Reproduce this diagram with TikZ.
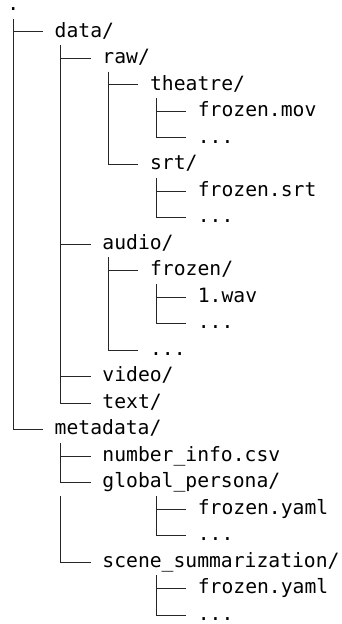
\documentclass[tikz,border=0pt]{standalone}
\usepackage{fontspec}
\newfontfamily\treefont{DejaVu Sans Mono}
\begin{document}
\begin{tikzpicture}[x=0.75pt,y=-0.75pt,
  entry/.style={anchor=west,inner xsep=8.6pt,inner ysep=0pt,text height=11pt,text depth=3pt,
    font=\treefont\fontsize{14.77pt}{17pt}\selectfont,text=black},
  branch/.style={draw=black!85,line width=0.75pt}]
\useasboundingbox (0,0) rectangle (342,624);
% nodes
\node[entry,anchor=base west,inner xsep=0pt,text height=2pt,text depth=0pt] (root) at (7.1,10.8) {.};
\node[entry] (data) at (43,32) {data/};
\node[entry] (raw) at (90.7,58.5) {raw/};
\node[entry] (theatre) at (138.4,85) {theatre/};
\node[entry] (fmov) at (186.1,111.5) {frozen.mov};
\node[entry] (dotsA) at (186.1,138) {...};
\node[entry] (srt) at (138.4,164.5) {srt/};
\node[entry] (fsrt) at (186.1,191) {frozen.srt};
\node[entry] (dotsB) at (186.1,217.5) {...};
\node[entry] (audio) at (90.7,244) {audio/};
\node[entry] (afrozen) at (138.4,270.5) {frozen/};
\node[entry] (wav) at (186.1,297) {1.wav};
\node[entry] (dotsC) at (186.1,323.5) {...};
\node[entry] (dotsD) at (138.4,350) {...};
\node[entry] (video) at (90.7,376.5) {video/};
\node[entry] (text) at (90.7,403) {text/};
\node[entry] (metadata) at (43,429.5) {metadata/};
\node[entry] (numinfo) at (90.7,456) {number\_info.csv};
\node[entry] (gpersona) at (90.7,482.5) {global\_persona/};
\node[entry] (gpyaml) at (186.1,509) {frozen.yaml};
\node[entry] (dotsE) at (186.1,535.5) {...};
\node[entry] (scene) at (90.7,562) {scene\_summarization/};
\node[entry] (scyaml) at (186.1,588.5) {frozen.yaml};
\node[entry] (dotsF) at (186.1,615) {...};
% vertical starting points
\coordinate (v-root) at ([shift={(5.9,8)}]root.base west);
\coordinate (v-data) at ([shift={(17.7,13.25)}]data.west);
\coordinate (v-raw) at ([shift={(17.7,13.25)}]raw.west);
\coordinate (v-theatre) at ([shift={(17.7,13.25)}]theatre.west);
\coordinate (v-srt) at ([shift={(17.7,13.25)}]srt.west);
\coordinate (v-audio) at ([shift={(17.7,13.25)}]audio.west);
\coordinate (v-afrozen) at ([shift={(17.7,13.25)}]afrozen.west);
\coordinate (v-meta) at ([shift={(17.7,13.25)}]metadata.west);
\coordinate (v-meta2) at ([shift={(-30,13.25)}]gpersona.west);
\coordinate (v-gp) at ([shift={(65.4,13.25)}]gpersona.west);
\coordinate (v-scene) at ([shift={(65.4,13.25)}]scene.west);
% connectors
\draw[branch] (v-root) |- (data.west);
\draw[branch] (v-root) |- (metadata.west);
\draw[branch] (v-data) |- (raw.west);
\draw[branch] (v-data) |- (audio.west);
\draw[branch] (v-data) |- (video.west);
\draw[branch] (v-data) |- (text.west);
\draw[branch] (v-raw) |- (theatre.west);
\draw[branch] (v-raw) |- (srt.west);
\draw[branch] (v-theatre) |- (fmov.west);
\draw[branch] (v-theatre) |- (dotsA.west);
\draw[branch] (v-srt) |- (fsrt.west);
\draw[branch] (v-srt) |- (dotsB.west);
\draw[branch] (v-audio) |- (afrozen.west);
\draw[branch] (v-audio) |- (dotsD.west);
\draw[branch] (v-afrozen) |- (wav.west);
\draw[branch] (v-afrozen) |- (dotsC.west);
\draw[branch] (v-meta) |- (numinfo.west);
\draw[branch] (v-meta) |- (gpersona.west);
\draw[branch] (v-meta2) |- (scene.west);
\draw[branch] (v-gp) |- (gpyaml.west);
\draw[branch] (v-gp) |- (dotsE.west);
\draw[branch] (v-scene) |- (scyaml.west);
\draw[branch] (v-scene) |- (dotsF.west);
\end{tikzpicture}
\end{document}
